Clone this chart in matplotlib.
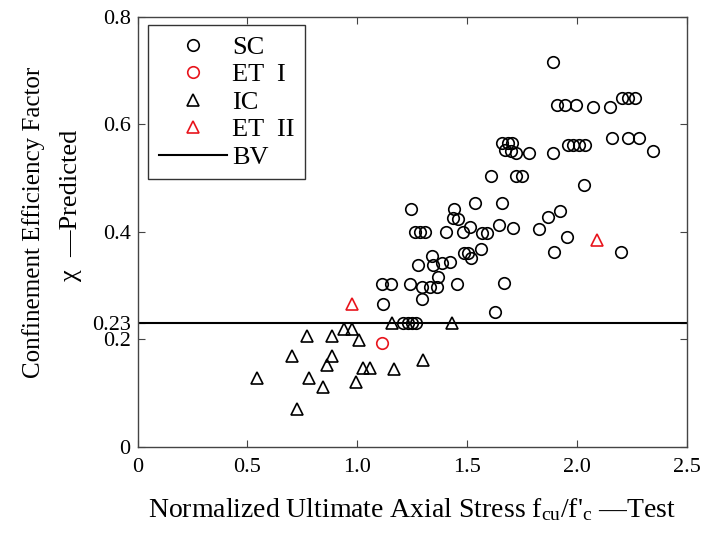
import matplotlib
matplotlib.use("Agg")
import matplotlib.pyplot as plt

plt.rcParams["font.family"] = ["Liberation Serif", "DejaVu Serif"]
plt.rcParams["mathtext.fontset"] = "custom"
plt.rcParams["mathtext.rm"] = "Liberation Serif"
plt.rcParams["mathtext.it"] = "Liberation Serif:italic"

# SC specimens: normalized ultimate stress (test) vs. predicted confinement factor
sc_x = [1.891, 1.912, 1.947, 1.995, 2.076, 2.152, 2.205, 2.235, 2.266, 2.159,
        2.232, 2.285, 2.346, 1.962, 1.985, 2.012, 2.038, 1.891, 1.783, 1.660,
        1.685, 1.705, 1.675, 1.700, 1.725, 1.610, 1.724, 1.750, 2.035, 1.658,
        1.537, 1.443, 1.244, 1.438, 1.461, 1.924, 1.869, 1.830, 1.648, 1.710,
        1.957, 1.897, 2.201, 1.264, 1.286, 1.310, 1.403, 1.481, 1.514, 1.567,
        1.590, 1.340, 1.279, 1.344, 1.385, 1.423, 1.487, 1.506, 1.517, 1.564,
        1.367, 1.112, 1.154, 1.241, 1.294, 1.332, 1.365, 1.453, 1.670, 1.117,
        1.297, 1.630, 1.210, 1.230, 1.250, 1.270]
sc_y = [0.716, 0.637, 0.637, 0.637, 0.633, 0.633, 0.650, 0.650, 0.650, 0.574,
        0.574, 0.574, 0.551, 0.562, 0.562, 0.562, 0.562, 0.547, 0.547, 0.565,
        0.565, 0.565, 0.553, 0.550, 0.547, 0.503, 0.503, 0.503, 0.487, 0.453,
        0.454, 0.442, 0.442, 0.425, 0.423, 0.439, 0.428, 0.406, 0.413, 0.407,
        0.391, 0.362, 0.362, 0.400, 0.400, 0.400, 0.399, 0.399, 0.408, 0.397,
        0.397, 0.354, 0.338, 0.338, 0.341, 0.344, 0.360, 0.360, 0.351, 0.368,
        0.316, 0.303, 0.303, 0.303, 0.298, 0.297, 0.297, 0.303, 0.304, 0.265,
        0.275, 0.251, 0.230, 0.230, 0.230, 0.230]

# ET I specimen
et1_x = [1.112]
et1_y = [0.192]

# IC specimens
ic_x = [0.543, 0.705, 0.725, 0.770, 0.781, 0.846, 0.864, 0.884, 0.884, 0.940,
        0.975, 1.007, 0.994, 1.028, 1.059, 1.170, 1.299, 1.157, 1.433]
ic_y = [0.127, 0.169, 0.070, 0.205, 0.127, 0.110, 0.151, 0.169, 0.205, 0.218,
        0.218, 0.199, 0.121, 0.146, 0.146, 0.144, 0.162, 0.230, 0.230]

# ET II specimens
et2_x = [0.978, 2.094]
et2_y = [0.266, 0.385]

# boundary value of the confinement factor
bv = 0.23

x_ticks = [0, 0.5, 1.0, 1.5, 2.0, 2.5]
x_ticklabels = ["0", "0.5", "1.0", "1.5", "2.0", "2.5"]
y_ticks = [0, 0.2, 0.23, 0.4, 0.6, 0.8]
y_ticklabels = ["0", "0.2", "0.23", "0.4", "0.6", "0.8"]

W, H = 704, 536
fig = plt.figure(figsize=(W / 100, H / 100), dpi=100)
ax = fig.add_axes([137.5 / W, (H - 446.5) / H, 549 / W, 429.5 / H])

ms = 8.3
mew = 1.2
red = "#e8141c"
ax.plot(sc_x, sc_y, "o", ms=ms, mfc="none", mec="black", mew=mew, label="SC", zorder=3)
ax.plot(et1_x, et1_y, "o", ms=ms, mfc="none", mec=red, mew=mew, label="ET  I", zorder=3)
ax.plot(ic_x, ic_y, "^", ms=ms, mfc="none", mec="black", mew=mew, label="IC", zorder=3)
ax.plot(et2_x, et2_y, "^", ms=ms, mfc="none", mec=red, mew=mew, label="ET  II", zorder=3)
ax.axhline(bv, color="black", lw=1.5, label="BV", zorder=2)

ax.set_xlim(0, 2.5)
ax.set_ylim(0, 0.8)
ax.set_xticks(x_ticks)
ax.set_xticklabels(x_ticklabels)
ax.set_yticks(y_ticks)
ax.set_yticklabels(y_ticklabels)
ax.tick_params(direction="in", top=True, right=True, length=5, width=0.8,
               labelsize=16, color="#444444")
ax.tick_params(axis="x", pad=8)
ax.tick_params(axis="y", pad=5)
for s in ax.spines.values():
    s.set_color("#444444")
    s.set_linewidth(1.0)

ax.set_xlabel(r"Normalized Ultimate Axial Stress f$_{\mathregular{cu}}$/f'$_{\mathregular{c}}$ —Test",
              fontsize=20, labelpad=14)

# two-line y-axis title
fig.text(34 / W, 1 - 222 / H, "Confinement Efficiency Factor", rotation=90,
         ha="center", va="center", fontsize=18)
fig.text(71 / W, 1 - 205 / H, "χ  —Predicted", rotation=90,
         ha="center", va="center", fontsize=19)

leg = ax.legend(loc="upper left", bbox_to_anchor=((148 - 137.5) / 549, (446.5 - 25) / 429.5),
                borderaxespad=0, fontsize=19, handlelength=2.6, handletextpad=0.2,
                labelspacing=0.15, borderpad=0.4, fancybox=False, framealpha=1,
                edgecolor="#333333")
leg.get_frame().set_linewidth(1.0)

fig.savefig("out.png", dpi=100)
